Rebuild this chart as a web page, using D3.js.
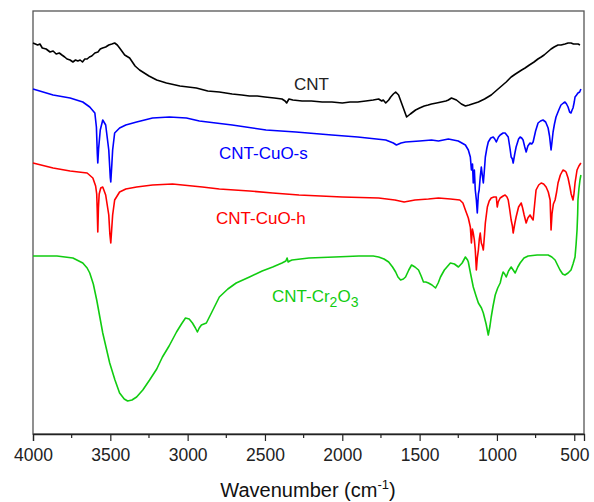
<!DOCTYPE html>
<html>
<head>
<meta charset="utf-8">
<script src="https://cdn.jsdelivr.net/npm/d3@7"></script>
<style>
  body { margin: 0; background: #fff; }
  text { font-family: Arial, "Liberation Sans", sans-serif; }
</style>
</head>
<body>
<svg id="chart" width="594" height="502"></svg>
<script>
// Spectra: [wavenumber (cm-1), intensity (a.u.)]
const cnt = [
    [4000, 391], [3970, 389], [3955, 390], [3940, 386], [3915, 385], [3890, 382], [3870, 383], [3850, 380],
    [3830, 381], [3813, 379], [3795, 377], [3780, 375], [3760, 374], [3742, 372], [3725, 374], [3710, 373],
    [3695, 374], [3680, 372], [3665, 375], [3650, 375], [3635, 377], [3620, 378], [3600, 381], [3580, 382],
    [3565, 385], [3550, 386], [3530, 387], [3510, 389], [3490, 390], [3472, 391], [3455, 389], [3440, 386],
    [3407, 379], [3375, 376], [3340, 368], [3311, 364], [3250, 358], [3200, 354], [3137, 351], [3050, 348],
    [2944, 346], [2870, 343], [2795, 342], [2712, 340], [2650, 339], [2600, 338], [2550, 338], [2500, 337],
    [2440, 336], [2390, 335], [2370, 333], [2360, 331], [2345, 335], [2320, 334], [2260, 333], [2200, 333],
    [2130, 332], [2067, 332], [2000, 331], [1950, 332], [1900, 332], [1848, 333], [1800, 334], [1765, 335],
    [1745, 333], [1735, 334], [1719, 331], [1700, 334], [1687, 337], [1670, 340], [1655, 342], [1636, 339],
    [1610, 328], [1584, 317], [1560, 320], [1526, 324], [1500, 326], [1470, 328], [1445, 329], [1423, 330],
    [1390, 331], [1360, 332], [1330, 333], [1314, 334], [1294, 336], [1262, 334], [1230, 330], [1204, 328],
    [1180, 329], [1160, 330], [1140, 331], [1120, 332], [1080, 335], [1037, 339], [1000, 344], [970, 348],
    [940, 352], [908, 357], [880, 360], [860, 362], [840, 364], [818, 366], [790, 369], [760, 372],
    [735, 375], [714, 377], [695, 379], [680, 381], [665, 383], [650, 385], [630, 387], [605, 389],
    [585, 389], [560, 390], [540, 391], [521, 391], [505, 390], [490, 390], [475, 390], [463, 389]
];

const cntCuOs = [
    [4000, 345], [3870, 339], [3760, 336], [3678, 332], [3633, 327], [3600, 321], [3590, 307], [3584, 280],
    [3581, 271], [3576, 285], [3565, 304], [3549, 314], [3530, 309], [3510, 284], [3500, 256], [3497, 252],
    [3490, 270], [3485, 284], [3472, 301], [3440, 306], [3400, 309], [3330, 312], [3227, 316], [3118, 317],
    [3008, 316], [2924, 313], [2712, 309], [2493, 304], [2300, 302], [2067, 299], [1900, 297], [1719, 294],
    [1670, 291], [1650, 289], [1620, 291], [1591, 292], [1500, 293], [1423, 294], [1378, 293], [1314, 295],
    [1250, 293], [1204, 289], [1185, 284], [1172, 277], [1165, 264], [1158, 270], [1153, 251], [1146, 264],
    [1140, 244], [1133, 234], [1127, 221], [1120, 240], [1115, 244], [1108, 257], [1101, 267], [1094, 258],
    [1088, 251], [1082, 262], [1075, 277], [1065, 286], [1056, 292], [1040, 296], [1024, 297], [1014, 295],
    [1004, 292], [990, 297], [979, 299], [960, 301], [947, 301], [927, 297], [915, 285], [908, 277],
    [900, 275], [895, 271], [885, 280], [876, 287], [860, 295], [850, 297], [840, 296], [831, 294],
    [820, 287], [811, 282], [800, 288], [786, 291], [775, 290], [766, 292], [750, 303], [734, 311],
    [718, 313], [702, 314], [685, 312], [669, 306], [660, 298], [650, 284], [644, 292], [637, 302],
    [628, 310], [618, 317], [600, 324], [586, 329], [570, 331], [560, 332], [550, 330], [540, 327],
    [530, 322], [521, 321], [514, 324], [508, 326], [500, 332], [495, 337], [485, 339], [476, 341],
    [465, 342], [457, 345]
];

const cntCuOh = [
    [4000, 271], [3870, 266], [3760, 263], [3650, 261], [3613, 256], [3595, 248], [3588, 240], [3585, 226],
    [3581, 202], [3577, 226], [3572, 240], [3562, 246], [3549, 247], [3530, 239], [3510, 219], [3503, 200],
    [3497, 191], [3491, 205], [3485, 219], [3472, 234], [3440, 242], [3400, 245], [3330, 247], [3227, 249],
    [3098, 250], [2905, 247], [2795, 245], [2600, 243], [2450, 241], [2280, 239], [2000, 237], [1765, 236],
    [1660, 234], [1600, 232], [1530, 234], [1443, 235], [1378, 236], [1300, 235], [1240, 234], [1220, 231],
    [1204, 224], [1185, 216], [1172, 207], [1165, 191], [1159, 205], [1153, 201], [1146, 194], [1140, 184],
    [1133, 164], [1127, 176], [1120, 184], [1114, 195], [1108, 201], [1101, 191], [1094, 188], [1088, 184],
    [1080, 200], [1075, 211], [1062, 227], [1050, 233], [1037, 236], [1020, 237], [1004, 237], [998, 227],
    [992, 232], [979, 236], [960, 238], [947, 239], [935, 237], [927, 234], [918, 225], [908, 214],
    [900, 208], [895, 201], [885, 210], [876, 217], [860, 227], [843, 231], [834, 226], [824, 219],
    [811, 211], [800, 216], [786, 219], [775, 216], [766, 214], [756, 230], [747, 244], [730, 249],
    [714, 251], [698, 250], [682, 247], [668, 242], [656, 234], [650, 204], [644, 220], [635, 230],
    [624, 234], [614, 242], [605, 251], [590, 259], [573, 264], [560, 263], [553, 262], [540, 256],
    [528, 247], [520, 240], [508, 234], [502, 240], [495, 251], [488, 258], [482, 264], [470, 268],
    [457, 271]
];

const cntCr2O3 = [
    [4000, 178], [3845, 178], [3742, 176], [3678, 171], [3650, 166], [3633, 161], [3610, 150], [3588, 134],
    [3549, 101], [3504, 71], [3470, 54], [3440, 41], [3410, 35], [3388, 33], [3360, 34], [3330, 37],
    [3290, 44], [3246, 54], [3200, 65], [3163, 77], [3120, 88], [3072, 102], [3040, 110], [3014, 116],
    [2990, 115], [2969, 111], [2950, 106], [2937, 102], [2925, 106], [2911, 109], [2895, 110], [2879, 111],
    [2840, 123], [2795, 137], [2740, 145], [2686, 151], [2600, 157], [2518, 163], [2450, 167], [2390, 171],
    [2365, 173], [2357, 176], [2350, 172], [2340, 173], [2325, 174], [2216, 176], [2050, 177], [1893, 178],
    [1800, 178], [1765, 177], [1730, 175], [1700, 172], [1675, 167], [1655, 162], [1640, 157], [1623, 154],
    [1605, 155], [1591, 157], [1570, 164], [1552, 169], [1530, 167], [1507, 164], [1490, 158], [1475, 152],
    [1460, 152], [1443, 151], [1420, 149], [1397, 146], [1380, 151], [1365, 157], [1340, 164], [1301, 171],
    [1275, 170], [1249, 167], [1225, 171], [1204, 177], [1190, 174], [1185, 172], [1170, 160], [1153, 147],
    [1135, 138], [1120, 131], [1100, 126], [1088, 121], [1070, 110], [1056, 99], [1045, 108], [1037, 117],
    [1025, 128], [1011, 139], [995, 146], [979, 151], [970, 157], [960, 162], [950, 160], [940, 157],
    [925, 163], [908, 167], [895, 164], [882, 161], [865, 167], [850, 171], [825, 176], [798, 178],
    [740, 179], [700, 179], [669, 179], [645, 177], [624, 174], [605, 168], [592, 164], [575, 160],
    [560, 159], [540, 161], [521, 164], [508, 170], [495, 177], [488, 190], [482, 204], [478, 220],
    [476, 234], [470, 245], [463, 254], [457, 259]
];

const majorTicks = [4000, 3500, 3000, 2500, 2000, 1500, 1000, 500];
const minorTicks = [3750, 3250, 2750, 2250, 1750, 1250, 750];

const seriesList = [
    { name: "CNT", data: cnt, color: "#000000" },
    { name: "CNT-CuO-s", data: cntCuOs, color: "#0000ff" },
    { name: "CNT-CuO-h", data: cntCuOh, color: "#ff0000" },
    { name: "CNT-Cr2O3", data: cntCr2O3, color: "#11cc11" }
];

const dimensions = {
    width: 594,
    height: 502,
    margin: { top: 11, bottom: 68, right: 10, left: 33 }
};
const plotW = dimensions.width - dimensions.margin.left - dimensions.margin.right;
const plotH = dimensions.height - dimensions.margin.top - dimensions.margin.bottom;
const x0 = dimensions.margin.left, y0 = dimensions.margin.top;

const svg = d3.select("#chart");

// Scales
const xScale = d3.scaleLinear()
    .domain([4000, 437])
    .range([x0, x0 + plotW]);

const yScale = d3.scaleLinear()
    .domain([0, 423])
    .range([y0 + plotH, y0]);

// Frame
svg.append("rect")
    .attr("x", x0)
    .attr("y", y0)
    .attr("width", plotW)
    .attr("height", plotH)
    .attr("fill", "none")
    .attr("stroke", "#555")
    .attr("stroke-width", 1.3);

// Spectra
const line = d3.line()
    .x(d => xScale(d[0]))
    .y(d => yScale(d[1]));

seriesList.forEach(s => {
    svg.append("path")
        .datum(s.data)
        .attr("fill", "none")
        .attr("stroke", s.color)
        .attr("stroke-width", 1.6)
        .attr("stroke-linejoin", "round")
        .attr("d", line);
});

// X axis (major + minor ticks)
const xAxisG = svg.append("g")
    .attr("transform", `translate(0,${y0 + plotH})`)
    .call(d3.axisBottom(xScale).tickValues(majorTicks).tickSize(7).tickPadding(8).tickFormat(d3.format("d")));
xAxisG.select(".domain").attr("stroke", "#222").attr("stroke-width", 1.3);
xAxisG.selectAll(".tick line").attr("stroke", "#222").attr("stroke-width", 1.2);
xAxisG.selectAll(".tick text")
    .attr("fill", "#222")
    .style("font-size", "17.5px")
    .style("font-family", "Arial, 'Liberation Sans', sans-serif");

svg.append("g")
    .attr("transform", `translate(0,${y0 + plotH})`)
    .selectAll("line")
    .data(minorTicks)
    .enter()
    .append("line")
    .attr("x1", d => xScale(d))
    .attr("x2", d => xScale(d))
    .attr("y1", 0)
    .attr("y2", 4)
    .attr("stroke", "#222")
    .attr("stroke-width", 1.2);

// Axis title
const title = svg.append("text")
    .attr("x", 308)
    .attr("y", 497)
    .attr("text-anchor", "middle")
    .attr("fill", "#111")
    .style("font-size", "20px");
title.append("tspan").text("Wavenumber (cm");
title.append("tspan").attr("dy", -8).style("font-size", "13px").text("-1");
title.append("tspan").attr("dy", 8).text(")");

// Curve labels
svg.append("text")
    .attr("x", 294).attr("y", 90)
    .attr("fill", "#222")
    .style("font-size", "17px")
    .text("CNT");

svg.append("text")
    .attr("x", 219).attr("y", 159)
    .attr("fill", "#0000ff")
    .style("font-size", "17px")
    .text("CNT-CuO-s");

svg.append("text")
    .attr("x", 216).attr("y", 224)
    .attr("fill", "#ff0000")
    .style("font-size", "17px")
    .text("CNT-CuO-h");

const crLabel = svg.append("text")
    .attr("x", 272).attr("y", 302)
    .attr("fill", "#11cc11")
    .style("font-size", "17px");
crLabel.append("tspan").text("CNT-Cr");
crLabel.append("tspan").attr("dy", 5).style("font-size", "14px").text("2");
crLabel.append("tspan").attr("dy", -5).text("O");
crLabel.append("tspan").attr("dy", 5).style("font-size", "14px").text("3");
</script>
</body>
</html>
